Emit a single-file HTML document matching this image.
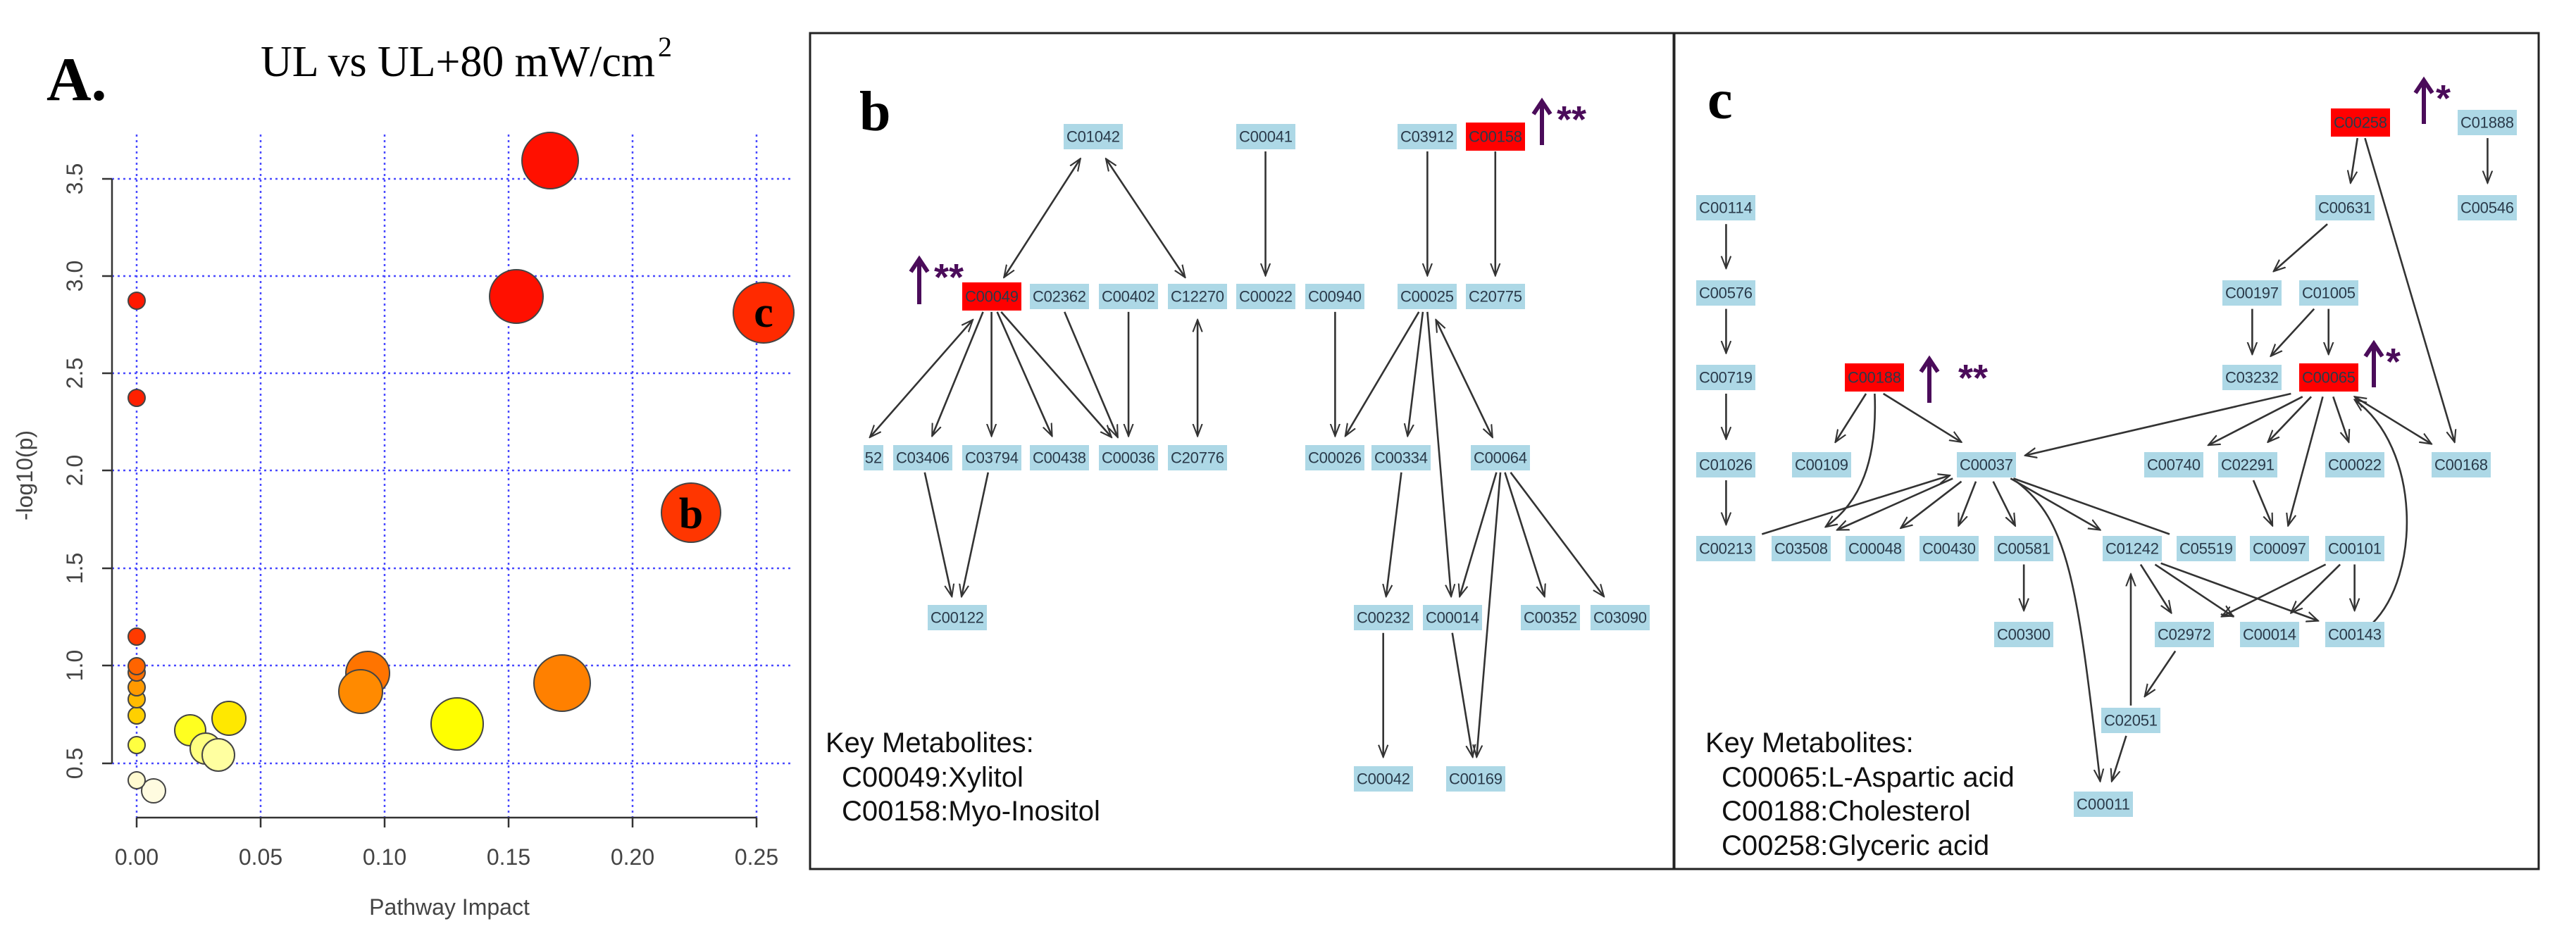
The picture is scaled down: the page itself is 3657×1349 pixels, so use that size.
<!DOCTYPE html>
<html><head><meta charset="utf-8"><style>
html,body{margin:0;padding:0;background:#fff;}
svg{display:block;}
.n rect{fill:#add8e6;}
.n text,.r text{font-family:"Liberation Sans",sans-serif;font-size:22px;fill:#2a3a4a;text-anchor:middle;dominant-baseline:central;}
.r rect{fill:#ff0000;}
.e line,.e path{stroke:#333;stroke-width:2.6;fill:none;vector-effect:non-scaling-stroke;}
.g{stroke:#4a4aff;stroke-width:2.5;stroke-dasharray:3,5;}
.key{font-family:"Liberation Sans",sans-serif;font-size:40px;fill:#111;}
.up{stroke:#4b0c5a;stroke-width:6;fill:none;}
.st{font-family:"Liberation Sans",sans-serif;font-weight:bold;font-size:54px;fill:#4b0c5a;}
.tk{font-family:"Liberation Sans",sans-serif;font-size:32px;fill:#444;text-anchor:middle;}
</style></head><body>
<svg width="3657" height="1349" viewBox="0 0 3657 1349" xmlns="http://www.w3.org/2000/svg">
<defs>
<marker id="a" viewBox="0 0 12 10" refX="11" refY="5" markerWidth="22" markerHeight="19" orient="auto-start-reverse" markerUnits="userSpaceOnUse">
<path d="M0,0.5 L11,5 L0,9.5" fill="none" stroke="#333" stroke-width="1.4"/></marker>
</defs>
<rect width="3657" height="1349" fill="#fff"/>

<!-- Panel A -->
<text x="66" y="142" font-family="Liberation Serif,serif" font-weight="bold" font-size="88">A.</text>
<text x="370" y="108" font-family="Liberation Serif,serif" font-size="62" textLength="560">UL vs UL+80 mW/cm</text>
<text x="934" y="80" font-family="Liberation Serif,serif" font-size="40">2</text>
<g class="g">
<line x1="194" y1="191" x2="194" y2="1161"/><line x1="370" y1="191" x2="370" y2="1161"/><line x1="546" y1="191" x2="546" y2="1161"/><line x1="722" y1="191" x2="722" y2="1161"/><line x1="898" y1="191" x2="898" y2="1161"/><line x1="1074" y1="191" x2="1074" y2="1161"/>
<line x1="159" y1="254" x2="1122" y2="254"/><line x1="159" y1="392" x2="1122" y2="392"/><line x1="159" y1="530" x2="1122" y2="530"/><line x1="159" y1="668" x2="1122" y2="668"/><line x1="159" y1="807" x2="1122" y2="807"/><line x1="159" y1="945" x2="1122" y2="945"/><line x1="159" y1="1084" x2="1122" y2="1084"/>
</g>
<g stroke="#333" stroke-width="2.5">
<line x1="159" y1="254" x2="159" y2="1084"/>
<line x1="145" y1="254" x2="159" y2="254"/><line x1="145" y1="392" x2="159" y2="392"/><line x1="145" y1="530" x2="159" y2="530"/><line x1="145" y1="668" x2="159" y2="668"/><line x1="145" y1="807" x2="159" y2="807"/><line x1="145" y1="945" x2="159" y2="945"/><line x1="145" y1="1084" x2="159" y2="1084"/>
<line x1="194" y1="1161" x2="1074" y2="1161"/>
<line x1="194" y1="1161" x2="194" y2="1175"/><line x1="370" y1="1161" x2="370" y2="1175"/><line x1="546" y1="1161" x2="546" y2="1175"/><line x1="722" y1="1161" x2="722" y2="1175"/><line x1="898" y1="1161" x2="898" y2="1175"/><line x1="1074" y1="1161" x2="1074" y2="1175"/>
</g>
<g class="tk">
<text x="194" y="1228">0.00</text><text x="370" y="1228">0.05</text><text x="546" y="1228">0.10</text><text x="722" y="1228">0.15</text><text x="898" y="1228">0.20</text><text x="1074" y="1228">0.25</text>
<text transform="translate(117,254) rotate(-90)">3.5</text><text transform="translate(117,392) rotate(-90)">3.0</text><text transform="translate(117,530) rotate(-90)">2.5</text><text transform="translate(117,668) rotate(-90)">2.0</text><text transform="translate(117,807) rotate(-90)">1.5</text><text transform="translate(117,945) rotate(-90)">1.0</text><text transform="translate(117,1084) rotate(-90)">0.5</text>
<text x="638" y="1299">Pathway Impact</text>
<text transform="translate(46,675) rotate(-90)">-log10(p)</text>
</g>
<g stroke="#444" stroke-width="2">
<circle cx="781" cy="228" r="40" fill="#ff1000"/>
<circle cx="733" cy="421" r="38" fill="#ff1000"/>
<circle cx="1084" cy="444" r="43" fill="#ff2a00"/>
<circle cx="981" cy="728" r="42" fill="#ff3600"/>
<circle cx="798" cy="970" r="40" fill="#ff8000"/>
<circle cx="649" cy="1028" r="37" fill="#ffff00"/>
<circle cx="522" cy="956" r="31" fill="#ff7400"/>
<circle cx="512" cy="982" r="31" fill="#ff8a00"/>
<circle cx="325" cy="1020" r="24" fill="#ffe800"/>
<circle cx="270" cy="1037" r="22" fill="#ffff20"/>
<circle cx="292" cy="1063" r="22" fill="#ffff80"/>
<circle cx="310" cy="1072" r="23" fill="#ffffa0"/>
<circle cx="218" cy="1123" r="17" fill="#fffbe0"/>
<circle cx="194" cy="1108" r="12" fill="#fffad0"/>
<circle cx="194" cy="1058" r="12" fill="#ffff40"/>
<circle cx="194" cy="1016" r="12" fill="#ffd000"/>
<circle cx="194" cy="993" r="12" fill="#ffbb00"/>
<circle cx="194" cy="976" r="12" fill="#ff9a00"/>
<circle cx="194" cy="955" r="12" fill="#ff7000"/>
<circle cx="194" cy="946" r="12" fill="#ff6400"/>
<circle cx="194" cy="904" r="12" fill="#ff3a00"/>
<circle cx="194" cy="565" r="12" fill="#ff2000"/>
<circle cx="194" cy="427" r="12" fill="#ff1800"/>
</g>
<text x="1084" y="464" font-family="Liberation Serif,serif" font-weight="bold" font-size="62" text-anchor="middle">c</text>
<text x="981" y="750" font-family="Liberation Serif,serif" font-weight="bold" font-size="62" text-anchor="middle">b</text>

<!-- Panel borders -->
<g stroke="#222" stroke-width="3" fill="none">
<rect x="1150" y="47" width="1226" height="1187"/>
<rect x="2377" y="47" width="1227" height="1187"/>
</g>

<!-- Panel b -->
<text x="1220" y="185" font-family="Liberation Serif,serif" font-weight="bold" font-size="80">b</text>
<g class="e" transform="translate(1140,0) scale(0.8036,0.86)">
<line x1="490" y1="262" x2="355" y2="458" marker-start="url(#a)" marker-end="url(#a)"/>
<line x1="535" y1="262" x2="675" y2="458" marker-start="url(#a)" marker-end="url(#a)"/>
<line x1="817" y1="250" x2="817" y2="455" marker-end="url(#a)"/>
<line x1="1103" y1="250" x2="1103" y2="455" marker-end="url(#a)"/>
<line x1="1223" y1="250" x2="1223" y2="455" marker-end="url(#a)"/>
<line x1="300" y1="528" x2="118" y2="722" marker-start="url(#a)" marker-end="url(#a)"/>
<line x1="318" y1="515" x2="228" y2="720" marker-end="url(#a)"/>
<line x1="333" y1="515" x2="333" y2="720" marker-end="url(#a)"/>
<line x1="343" y1="515" x2="440" y2="720" marker-end="url(#a)"/>
<line x1="350" y1="515" x2="545" y2="722" marker-end="url(#a)"/>
<line x1="462" y1="515" x2="556" y2="722" marker-end="url(#a)"/>
<line x1="575" y1="515" x2="575" y2="720" marker-end="url(#a)"/>
<line x1="697" y1="528" x2="697" y2="720" marker-start="url(#a)" marker-end="url(#a)"/>
<line x1="940" y1="515" x2="940" y2="720" marker-end="url(#a)"/>
<line x1="1088" y1="515" x2="958" y2="720" marker-end="url(#a)"/>
<line x1="1095" y1="515" x2="1068" y2="720" marker-end="url(#a)"/>
<line x1="1103" y1="515" x2="1145" y2="985" marker-end="url(#a)"/>
<line x1="1118" y1="528" x2="1218" y2="722" marker-start="url(#a)" marker-end="url(#a)"/>
<line x1="215" y1="780" x2="263" y2="985" marker-end="url(#a)"/>
<line x1="327" y1="780" x2="280" y2="985" marker-end="url(#a)"/>
<line x1="1057" y1="780" x2="1030" y2="985" marker-end="url(#a)"/>
<line x1="1225" y1="780" x2="1160" y2="985" marker-end="url(#a)"/>
<line x1="1232" y1="780" x2="1190" y2="1250" marker-end="url(#a)"/>
<line x1="1240" y1="780" x2="1310" y2="985" marker-end="url(#a)"/>
<line x1="1250" y1="780" x2="1415" y2="985" marker-end="url(#a)"/>
<line x1="1025" y1="1045" x2="1025" y2="1250" marker-end="url(#a)"/>
<line x1="1147" y1="1045" x2="1183" y2="1250" marker-end="url(#a)"/>
</g>
<g class="n">
<rect x="1510" y="176" width="84" height="36"/><text x="1552" y="194" textLength="76">C01042</text>
<rect x="1755" y="176" width="84" height="36"/><text x="1797" y="194" textLength="76">C00041</text>
<rect x="1984" y="176" width="84" height="36"/><text x="2026" y="194" textLength="76">C03912</text>
<rect x="1462" y="403" width="84" height="36"/><text x="1504" y="421" textLength="76">C02362</text>
<rect x="1560" y="403" width="84" height="36"/><text x="1602" y="421" textLength="76">C00402</text>
<rect x="1658" y="403" width="84" height="36"/><text x="1700" y="421" textLength="76">C12270</text>
<rect x="1755" y="403" width="84" height="36"/><text x="1797" y="421" textLength="76">C00022</text>
<rect x="1853" y="403" width="84" height="36"/><text x="1895" y="421" textLength="76">C00940</text>
<rect x="1984" y="403" width="84" height="36"/><text x="2026" y="421" textLength="76">C00025</text>
<rect x="2081" y="403" width="84" height="36"/><text x="2123" y="421" textLength="76">C20775</text>
<rect x="1226" y="632" width="28" height="36"/><text x="1240" y="650">52</text>
<rect x="1268" y="632" width="84" height="36"/><text x="1310" y="650" textLength="76">C03406</text>
<rect x="1366" y="632" width="84" height="36"/><text x="1408" y="650" textLength="76">C03794</text>
<rect x="1462" y="632" width="84" height="36"/><text x="1504" y="650" textLength="76">C00438</text>
<rect x="1560" y="632" width="84" height="36"/><text x="1602" y="650" textLength="76">C00036</text>
<rect x="1658" y="632" width="84" height="36"/><text x="1700" y="650" textLength="76">C20776</text>
<rect x="1853" y="632" width="84" height="36"/><text x="1895" y="650" textLength="76">C00026</text>
<rect x="1947" y="632" width="84" height="36"/><text x="1989" y="650" textLength="76">C00334</text>
<rect x="2088" y="632" width="84" height="36"/><text x="2130" y="650" textLength="76">C00064</text>
<rect x="1317" y="859" width="84" height="36"/><text x="1359" y="877" textLength="76">C00122</text>
<rect x="1922" y="859" width="84" height="36"/><text x="1964" y="877" textLength="76">C00232</text>
<rect x="2020" y="859" width="84" height="36"/><text x="2062" y="877" textLength="76">C00014</text>
<rect x="2159" y="859" width="84" height="36"/><text x="2201" y="877" textLength="76">C00352</text>
<rect x="2258" y="859" width="84" height="36"/><text x="2300" y="877" textLength="76">C03090</text>
<rect x="1922" y="1088" width="84" height="36"/><text x="1964" y="1106" textLength="76">C00042</text>
<rect x="2053" y="1088" width="84" height="36"/><text x="2095" y="1106" textLength="76">C00169</text>
</g>
<g class="r">
<rect x="1366" y="401" width="84" height="40"/><text x="1408" y="421" textLength="76">C00049</text>
<rect x="2081" y="174" width="84" height="40"/><text x="2123" y="194" textLength="76">C00158</text>
</g>
<path class="up" d="M1305,432 V372 M1293,386 L1305,368 L1317,386"/>
<text class="st" x="1326" y="412">**</text>
<path class="up" d="M2189,206 V148 M2177,162 L2189,144 L2201,162"/>
<text class="st" x="2210" y="188">**</text>
<text class="key" x="1172" y="1068">Key Metabolites:</text>
<text class="key" x="1195" y="1117">C00049:Xylitol</text>
<text class="key" x="1195" y="1165">C00158:Myo-Inositol</text>

<!-- Panel c -->
<text x="2424" y="168" font-family="Liberation Serif,serif" font-weight="bold" font-size="80">c</text>
<g class="e" transform="translate(2370,0) scale(0.8208,0.86)">
<line x1="1190" y1="228" x2="1178" y2="302" marker-end="url(#a)"/>
<line x1="1203" y1="228" x2="1358" y2="730" marker-end="url(#a)"/>
<line x1="1415" y1="228" x2="1415" y2="302" marker-end="url(#a)"/>
<line x1="98" y1="370" x2="98" y2="443" marker-end="url(#a)"/>
<line x1="98" y1="510" x2="98" y2="583" marker-end="url(#a)"/>
<line x1="98" y1="650" x2="98" y2="725" marker-end="url(#a)"/>
<line x1="98" y1="793" x2="98" y2="866" marker-end="url(#a)"/>
<line x1="1138" y1="370" x2="1045" y2="448" marker-end="url(#a)"/>
<line x1="1008" y1="510" x2="1008" y2="585" marker-end="url(#a)"/>
<line x1="1115" y1="510" x2="1040" y2="588" marker-end="url(#a)"/>
<line x1="1140" y1="510" x2="1140" y2="585" marker-end="url(#a)"/>
<line x1="340" y1="650" x2="287" y2="730" marker-end="url(#a)"/>
<line x1="370" y1="650" x2="505" y2="730" marker-end="url(#a)"/>
<path d="M355,650 C360,760 330,830 270,870" marker-end="url(#a)"/>
<line x1="1075" y1="650" x2="615" y2="752" marker-end="url(#a)"/>
<line x1="1095" y1="655" x2="932" y2="735" marker-end="url(#a)"/>
<line x1="1110" y1="655" x2="1035" y2="730" marker-end="url(#a)"/>
<line x1="1130" y1="655" x2="1070" y2="868" marker-end="url(#a)"/>
<line x1="1148" y1="655" x2="1175" y2="730" marker-end="url(#a)"/>
<line x1="1185" y1="655" x2="1318" y2="733" marker-start="url(#a)" marker-end="url(#a)"/>
<path d="M1215,1030 C1300,950 1300,740 1185,660" marker-end="url(#a)"/>
<line x1="160" y1="882" x2="485" y2="785" marker-end="url(#a)"/>
<line x1="490" y1="790" x2="290" y2="875" marker-end="url(#a)"/>
<line x1="505" y1="795" x2="400" y2="872" marker-end="url(#a)"/>
<line x1="530" y1="795" x2="500" y2="868" marker-end="url(#a)"/>
<line x1="560" y1="795" x2="598" y2="868" marker-end="url(#a)"/>
<line x1="590" y1="790" x2="745" y2="875" marker-end="url(#a)"/>
<line x1="865" y1="882" x2="595" y2="790"/>
<path d="M600,795 C690,860 705,960 745,1290" marker-end="url(#a)"/>
<line x1="613" y1="932" x2="613" y2="1008" marker-end="url(#a)"/>
<line x1="815" y1="932" x2="868" y2="1012" marker-end="url(#a)"/>
<line x1="840" y1="932" x2="975" y2="1018" marker-end="url(#a)"/>
<line x1="850" y1="930" x2="1122" y2="1025" marker-end="url(#a)"/>
<line x1="1135" y1="932" x2="955" y2="1018" marker-end="url(#a)"/>
<line x1="1160" y1="932" x2="1075" y2="1012" marker-end="url(#a)"/>
<line x1="1185" y1="932" x2="1185" y2="1008" marker-end="url(#a)"/>
<line x1="1010" y1="793" x2="1043" y2="868" marker-end="url(#a)"/>
<line x1="875" y1="1075" x2="822" y2="1150" marker-end="url(#a)"/>
<line x1="798" y1="1165" x2="798" y2="948" marker-end="url(#a)"/>
<line x1="790" y1="1215" x2="765" y2="1290" marker-end="url(#a)"/>
</g>
<g class="n">
<rect x="3489" y="156" width="84" height="36"/><text x="3531" y="174" textLength="76">C01888</text>
<rect x="2408" y="277" width="84" height="36"/><text x="2450" y="295" textLength="76">C00114</text>
<rect x="3287" y="277" width="84" height="36"/><text x="3329" y="295" textLength="76">C00631</text>
<rect x="3489" y="277" width="84" height="36"/><text x="3531" y="295" textLength="76">C00546</text>
<rect x="2408" y="398" width="84" height="36"/><text x="2450" y="416" textLength="76">C00576</text>
<rect x="3155" y="398" width="84" height="36"/><text x="3197" y="416" textLength="76">C00197</text>
<rect x="3264" y="398" width="84" height="36"/><text x="3306" y="416" textLength="76">C01005</text>
<rect x="2408" y="518" width="84" height="36"/><text x="2450" y="536" textLength="76">C00719</text>
<rect x="3155" y="518" width="84" height="36"/><text x="3197" y="536" textLength="76">C03232</text>
<rect x="2408" y="642" width="84" height="36"/><text x="2450" y="660" textLength="76">C01026</text>
<rect x="2544" y="642" width="84" height="36"/><text x="2586" y="660" textLength="76">C00109</text>
<rect x="2778" y="642" width="84" height="36"/><text x="2820" y="660" textLength="76">C00037</text>
<rect x="3044" y="642" width="84" height="36"/><text x="3086" y="660" textLength="76">C00740</text>
<rect x="3149" y="642" width="84" height="36"/><text x="3191" y="660" textLength="76">C02291</text>
<rect x="3301" y="642" width="84" height="36"/><text x="3343" y="660" textLength="76">C00022</text>
<rect x="3452" y="642" width="84" height="36"/><text x="3494" y="660" textLength="76">C00168</text>
<rect x="2408" y="761" width="84" height="36"/><text x="2450" y="779" textLength="76">C00213</text>
<rect x="2515" y="761" width="84" height="36"/><text x="2557" y="779" textLength="76">C03508</text>
<rect x="2620" y="761" width="84" height="36"/><text x="2662" y="779" textLength="76">C00048</text>
<rect x="2725" y="761" width="84" height="36"/><text x="2767" y="779" textLength="76">C00430</text>
<rect x="2831" y="761" width="84" height="36"/><text x="2873" y="779" textLength="76">C00581</text>
<rect x="2985" y="761" width="84" height="36"/><text x="3027" y="779" textLength="76">C01242</text>
<rect x="3090" y="761" width="84" height="36"/><text x="3132" y="779" textLength="76">C05519</text>
<rect x="3194" y="761" width="84" height="36"/><text x="3236" y="779" textLength="76">C00097</text>
<rect x="3301" y="761" width="84" height="36"/><text x="3343" y="779" textLength="76">C00101</text>
<rect x="2831" y="883" width="84" height="36"/><text x="2873" y="901" textLength="76">C00300</text>
<rect x="3059" y="883" width="84" height="36"/><text x="3101" y="901" textLength="76">C02972</text>
<rect x="3180" y="883" width="84" height="36"/><text x="3222" y="901" textLength="76">C00014</text>
<rect x="3301" y="883" width="84" height="36"/><text x="3343" y="901" textLength="76">C00143</text>
<rect x="2983" y="1005" width="84" height="36"/><text x="3025" y="1023" textLength="76">C02051</text>
<rect x="2944" y="1124" width="84" height="36"/><text x="2986" y="1142" textLength="76">C00011</text>
</g>
<g class="r">
<rect x="3309" y="154" width="84" height="40"/><text x="3351" y="174" textLength="76">C00258</text>
<rect x="2619" y="516" width="84" height="40"/><text x="2661" y="536" textLength="76">C00188</text>
<rect x="3264" y="516" width="84" height="40"/><text x="3306" y="536" textLength="76">C00065</text>
</g>
<path class="up" d="M3441,176 V118 M3429,132 L3441,114 L3453,132"/>
<text class="st" x="3458" y="158">*</text>
<path class="up" d="M2739,572 V514 M2727,528 L2739,510 L2751,528"/>
<text class="st" x="2780" y="555">**</text>
<path class="up" d="M3370,550 V492 M3358,506 L3370,488 L3382,506"/>
<text class="st" x="3387" y="532">*</text>
<text class="key" x="2421" y="1068">Key Metabolites:</text>
<text class="key" x="2444" y="1117">C00065:L-Aspartic acid</text>
<text class="key" x="2444" y="1165">C00188:Cholesterol</text>
<text class="key" x="2444" y="1214">C00258:Glyceric acid</text>
</svg>
</body></html>
